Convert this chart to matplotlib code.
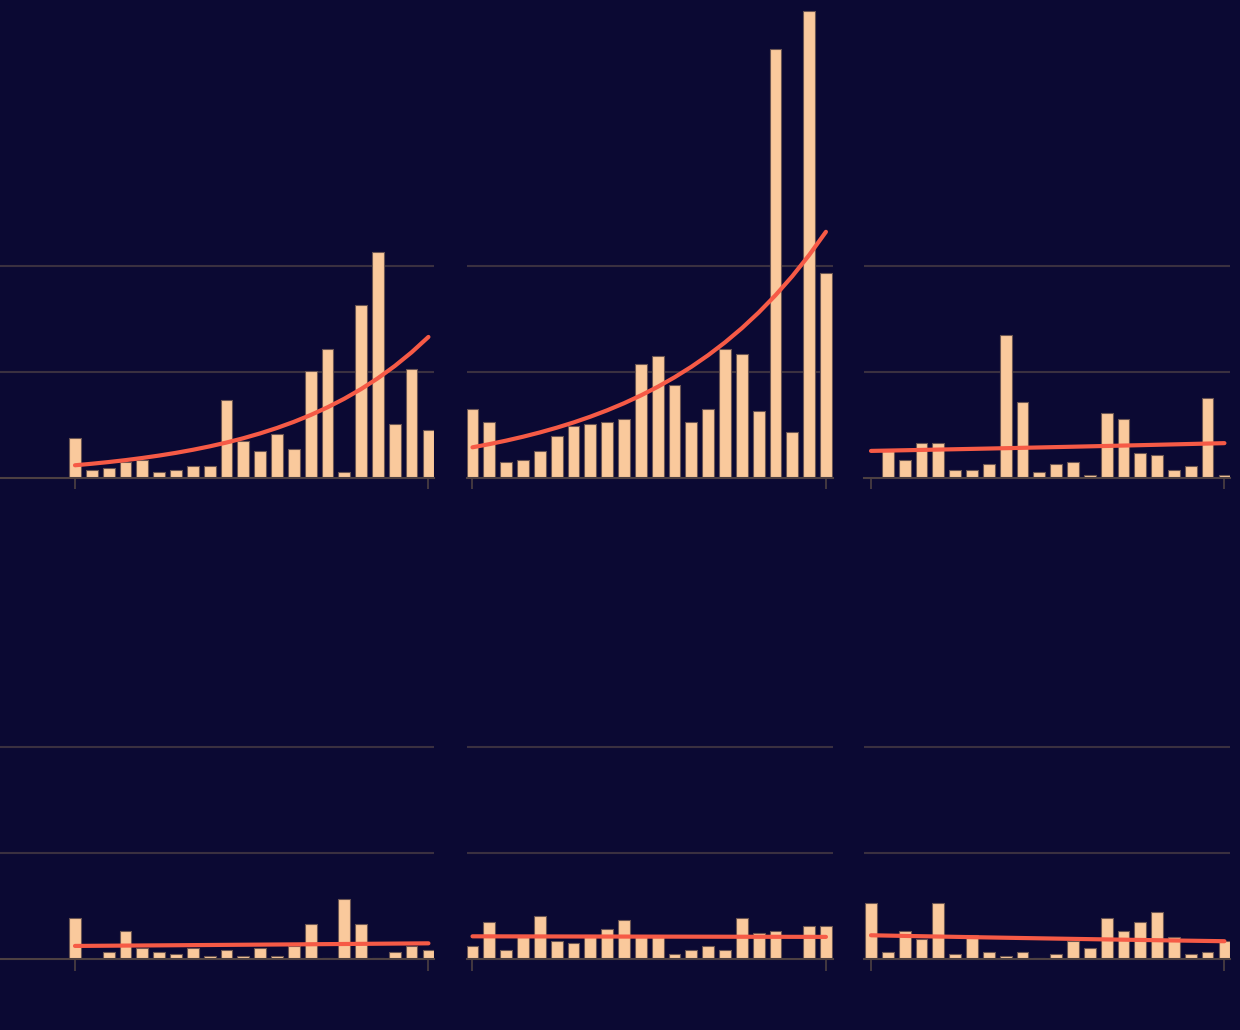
import numpy as np
import matplotlib
matplotlib.use("Agg")
from matplotlib import pyplot as plt

# --- values (22 periods per panel, 0 = no bar) ---
periods = np.arange(22)

panel_a = [18.5, 3.5, 4.5, 7.5, 8.5, 2.5, 3.5, 5.5, 5.5, 36.5, 17.5, 12.5, 20.5, 13.5, 50.5,
           60.5, 2.5, 81.5, 106.5, 25.5, 51.5, 22.5]
panel_b = [32.5, 26.5, 7.5, 8.5, 12.5, 19.5, 24.5, 25.5, 26.5, 27.5, 53.5, 57.5, 43.5, 26.5,
           32.5, 60.5, 58.5, 31.5, 202, 21.5, 220, 96.5]
panel_c = [0, 12.5, 8.5, 16.5, 16.5, 3.5, 3.5, 6.5, 67.5, 35.5, 2.5, 6.5, 7.5, 1.5, 30.5,
           27.5, 11.5, 10.5, 3.5, 5.5, 37.5, 1.5]
panel_d = [19.5, 0, 3.5, 13.5, 5.5, 3.5, 2.5, 5.5, 1.5, 4.5, 1.5, 5.5, 1.5, 6.5, 16.5,
           0.7, 28.5, 16.5, 0.7, 3.5, 6.5, 4.5]
panel_e = [6.5, 17.5, 4.5, 10.5, 20.5, 8.5, 7.5, 11.5, 14.5, 18.5, 10.5, 10.5, 2.5, 4.5,
           6.5, 4.5, 19.5, 12.5, 13.5, 0, 15.5, 15.5]
panel_f = [26.5, 3.5, 13.5, 9.5, 26.5, 2.5, 11.5, 3.5, 1.5, 3.5, 0.7, 2.5, 8.5, 5.5, 19.5,
           13.5, 17.5, 22.5, 10.5, 2.5, 3.5, 8.5]

panels = [panel_a, panel_b, panel_c, panel_d, panel_e, panel_f]
grid_values = [50, 100]
y_max = 222

BG = '#0b0933'
BAR = '#fac99c'
EDGE = '#6b5552'
TREND = '#f65a46'
GRID = '#3a3040'
AXIS = '#4d4042'


def nbFit(x, y):
	# negative binomial regression, log link (IRLS), theta by the pearson moment rule
	X = np.column_stack([np.ones(len(x)), x])
	beta = np.array([np.log(y.mean()), 0.0])
	theta = 10.0
	for _ in range(200):
		eta = X @ beta
		mu = np.exp(eta)
		w = mu / (1 + mu / theta)
		z = eta + (y - mu) / mu
		beta = np.linalg.solve(X.T @ (w[:, None] * X), X.T @ (w * z))
		mu = np.exp(X @ beta)
		lo, hi = 1e-3, 1e4
		for _ in range(80):
			theta = np.sqrt(lo * hi)
			if np.sum((y - mu) ** 2 / (mu + mu ** 2 / theta)) > len(y) - 2:
				hi = theta
			else:
				lo = theta
	return np.exp(beta[0] + beta[1] * x)


W, H = 1240, 1030
fig = plt.figure(figsize=(12.4, 10.3), dpi=100, facecolor=BG)

# column extents in pixels: left edge, right edge, centre of first bar
cols = [(0, 434, 75), (467, 833, 472.5), (864, 1230, 871)]
baselines = [477.7, 959.3]
step_px = 16.83
count_px = 2.12

for i, vals in enumerate(panels):
	r, c = divmod(i, 3)
	left, right, first = cols[c]
	vals = np.array(vals, dtype=float)
	ax = fig.add_axes([left / W, (H - baselines[r]) / H, (right - left) / W, y_max * count_px / H])
	ax.set_facecolor(BG)
	ax.set_axisbelow(True)

	ax.bar(periods, vals, width=0.7, color=BAR, edgecolor=EDGE, linewidth=0.8, zorder=2)
	trend = nbFit(periods.astype(float), vals)
	ax.plot(periods, trend, color=TREND, lw=3, solid_capstyle='round', zorder=3)

	ax.set_xlim(-(first - left) / step_px, (right - first) / step_px)
	ax.set_ylim(0, y_max)
	ax.set_yticks(grid_values)
	ax.yaxis.grid(True, color=GRID, lw=1.5)
	ax.tick_params(axis='y', length=0, labelleft=False)
	ax.set_xticks([periods[0], periods[-1]])
	ax.tick_params(axis='x', length=8.6, width=1.2, color=AXIS, labelbottom=False)
	for s in ['top', 'left', 'right']:
		ax.spines[s].set_visible(False)
	ax.spines['bottom'].set_color(AXIS)
	ax.spines['bottom'].set_linewidth(1.5)

fig.savefig('out.png', dpi=100, facecolor=BG)
